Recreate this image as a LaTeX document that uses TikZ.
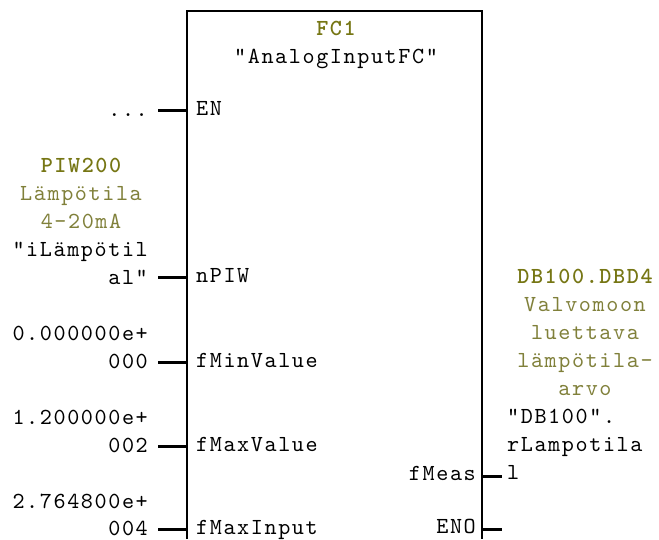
\documentclass[tikz,border=0pt]{standalone}
\usepackage{fontspec}
\setmonofont{lmmono10-regular.otf}[LetterSpace=7, BoldFont=lmmonolt10-bold.otf]
\usepackage{tikz}
\usetikzlibrary{positioning}
\usepackage{xcolor}
\definecolor{symgreen}{RGB}{118,118,20}
\definecolor{cmtgreen}{RGB}{128,128,58}
\tikzset{
  lbl/.style={inner sep=0pt, font=\ttfamily\fontsize{23}{26}\selectfont},
  sym/.style={lbl, text=symgreen, font=\ttfamily\bfseries\fontsize{23}{26}\selectfont},
  cmt/.style={lbl, text=cmtgreen},
  box/.style={line width=1.5pt},
  pin/.style={line width=3pt}
}

\begin{document}
\begin{tikzpicture}[x=1pt,y=-1pt]
  \useasboundingbox (0,0) rectangle (659,539);

  % Block outline (open at the bottom)
  \coordinate (bl) at (187,539);
  \coordinate (tl) at (187,11);
  \coordinate (tr) at (482,11);
  \coordinate (br) at (482,539);
  \draw[box] (bl) -- (tl) -- (tr) -- (br);

  % Block header
  \node[sym, anchor=base] (fc) at (336,35) {FC1};
  \node[lbl, anchor=base] (fcname) at (336,63) {"AnalogInputFC"};

  % Input pins with stubs
  \foreach \name/\y/\txt in {en/110/EN, npiw/277/nPIW, fmin/362/fMinValue,
                             fmax/446/fMaxValue, finp/529/fMaxInput} {
    \coordinate (\name-in) at (187,\y);
    \coordinate (\name-out) at (158,\y);
    \draw[pin] (\name-out) -- (\name-in);
    \node[lbl, anchor=base west] (\name-lbl) at (196,\y+5) {\txt};
  }

  % Output pins with stubs
  \foreach \name/\y/\txt in {fmeas/476/fMeas, eno/529/ENO} {
    \coordinate (\name-in) at (482,\y);
    \coordinate (\name-out) at (502,\y);
    \draw[pin] (\name-in) -- (\name-out);
    \node[lbl, anchor=base east] (\name-lbl) at (476,\y+4) {\txt};
  }

  % Actual parameters on the left
  \node[lbl, anchor=base east] (enval) at (148,116) {...};
  \node[sym, anchor=base] (piw) at (81,172) {PIW200};
  \node[cmt, anchor=base] (piwc1) at (81,200) {Lämpötila};
  \node[cmt, anchor=base] (piwc2) at (81,228) {4-20mA};
  \node[lbl, anchor=base east] (piwn1) at (148,256) {"iLämpötil};
  \node[lbl, anchor=base east] (piwn2) at (148,284) {al"};
  \node[lbl, anchor=base east] (minv1) at (148,340) {0.000000e+};
  \node[lbl, anchor=base east] (minv2) at (148,368) {000};
  \node[lbl, anchor=base east] (maxv1) at (148,424) {1.200000e+};
  \node[lbl, anchor=base east] (maxv2) at (148,452) {002};
  \node[lbl, anchor=base east] (inp1) at (148,508) {2.764800e+};
  \node[lbl, anchor=base east] (inp2) at (148,535) {004};

  % Actual parameter on the right
  \node[sym, anchor=base] (dbd) at (585,283) {DB100.DBD4};
  \node[cmt, anchor=base] (dbc1) at (585,311) {Valvomoon};
  \node[cmt, anchor=base] (dbc2) at (585,339) {luettava};
  \node[cmt, anchor=base] (dbc3) at (585,367) {lämpötila-};
  \node[cmt, anchor=base] (dbc4) at (585,395) {arvo};
  \node[lbl, anchor=base west] (dbn1) at (507,423) {"DB100".};
  \node[lbl, anchor=base west] (dbn2) at (507,451) {rLampotila};
  \node[lbl, anchor=base west] (dbn3) at (507,479) {l};

\end{tikzpicture}
\end{document}
